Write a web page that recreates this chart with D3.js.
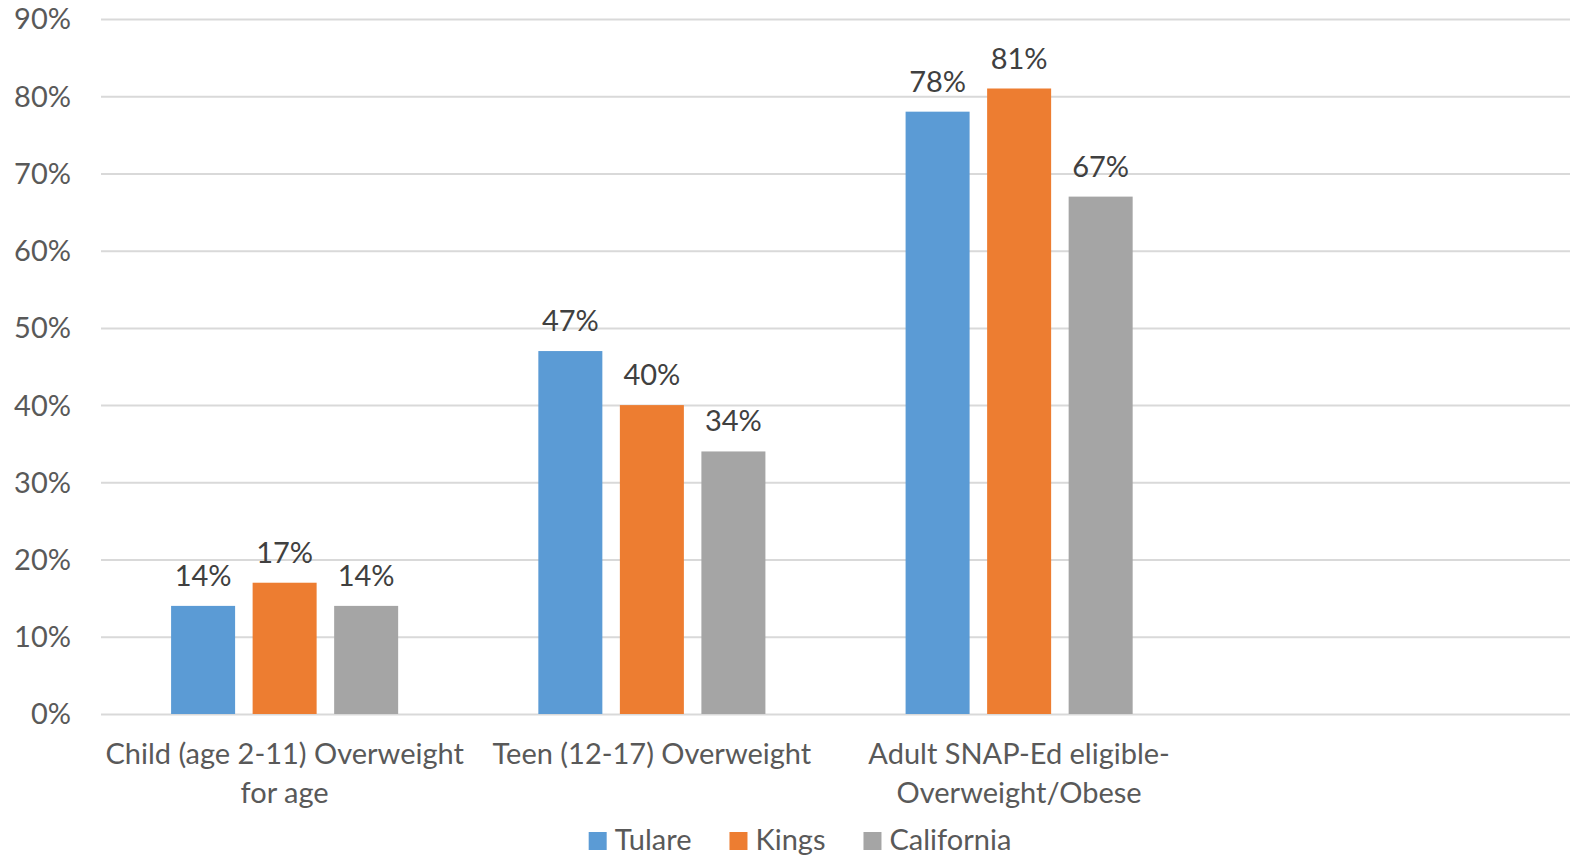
<!DOCTYPE html>
<html lang="en">
<head>
  <meta charset="utf-8" />
  <title>Overweight by age group</title>
  <script src="https://cdn.jsdelivr.net/npm/d3@7/dist/d3.min.js"></script>
  <style>
    body { margin: 0; background: #fff; }
    text { font-family: Lato, "Open Sans", sans-serif; fill: #595959; }
  </style>
</head>
<body>
<script>
// Chart data
var categories = ["Child (age 2-11) Overweight for age", "Teen (12-17) Overweight", "Adult SNAP-Ed eligible-Overweight/Obese", ""];
var categoryLines = [["Child (age 2-11) Overweight", "for age"], ["Teen (12-17) Overweight"], ["Adult SNAP-Ed eligible-", "Overweight/Obese"], []];
var series = ["Tulare", "Kings", "California"];
var tulare = [14, 47, 78];
var kings = [17, 40, 81];
var california = [14, 34, 67];
var yTicks = [0, 10, 20, 30, 40, 50, 60, 70, 80, 90];
var colors = ["#5B9BD5", "#ED7D31", "#A5A5A5"];

var width = 1580, height = 858;
var plot = { left: 101, right: 1570, top: 19, bottom: 714 };
var fs = "29px";

var svg = d3.select("body").append("svg")
    .attr("width", width)
    .attr("height", height);

var y = d3.scaleLinear().domain([0, 90]).range([plot.bottom, plot.top]);

var x0 = d3.scaleBand()
    .domain(d3.range(categories.length))
    .range([plot.left, plot.right])
    .paddingInner(0).paddingOuter(0);

// bars take ~17.4% of a category, gaps ~4.8%
var barW = x0.bandwidth() * 0.1743;
var gapW = x0.bandwidth() * 0.0477;
var groupW = barW * 3 + gapW * 2;

// gridlines
svg.append("g").selectAll("line")
  .data(yTicks)
  .enter().append("line")
    .attr("x1", plot.left)
    .attr("x2", plot.right)
    .attr("y1", function(d) { return y(d) + 0.5; })
    .attr("y2", function(d) { return y(d) + 0.5; })
    .attr("stroke", "#D9D9D9")
    .attr("stroke-width", 2);

// y axis labels
svg.append("g").selectAll("text")
  .data(yTicks)
  .enter().append("text")
    .attr("x", 71)
    .attr("y", function(d) { return y(d); })
    .attr("dy", "0.36em")
    .attr("text-anchor", "end")
    .attr("font-size", fs)
    .text(function(d) { return d + "%"; });

var table = [tulare, kings, california];

var groups = svg.append("g").selectAll("g")
  .data(table)
  .enter().append("g")
    .attr("fill", function(d, i) { return colors[i]; });

function barX(ci, si) {
  return x0(ci) + (x0.bandwidth() - groupW) / 2 + si * (barW + gapW);
}

groups.each(function(vals, si) {
  var g = d3.select(this);
  g.selectAll("rect")
    .data(vals)
    .enter().append("rect")
      .attr("x", function(d, ci) { return barX(ci, si); })
      .attr("y", function(d) { return y(d); })
      .attr("width", barW)
      .attr("height", function(d) { return y(0) - y(d); });

  g.selectAll("text")
    .data(vals)
    .enter().append("text")
      .attr("x", function(d, ci) { return barX(ci, si) + barW / 2; })
      .attr("y", function(d) { return y(d) - 20; })
      .attr("text-anchor", "middle")
      .attr("font-size", fs)
      .style("fill", "#404040")
      .text(function(d) { return d + "%"; });
});

// category labels
var catG = svg.append("g").selectAll("text")
  .data(categoryLines)
  .enter().append("text")
    .attr("text-anchor", "middle")
    .attr("font-size", fs)
    .attr("x", function(d, i) { return x0(i) + x0.bandwidth() / 2; })
    .attr("y", 764);

catG.selectAll("tspan")
  .data(function(d) { return d; })
  .enter().append("tspan")
    .attr("x", function() { return d3.select(this.parentNode).attr("x"); })
    .attr("y", function(d, i) { return 764 + i * 39; })
    .text(function(d) { return d; });

// legend
var legend = svg.append("g");
var items = legend.selectAll("g")
  .data(series)
  .enter().append("g");

items.append("rect")
  .attr("width", 18)
  .attr("height", 18)
  .attr("y", 832)
  .attr("fill", function(d, i) { return colors[i]; });

items.append("text")
  .attr("x", 26)
  .attr("y", 850)
  .attr("font-size", fs)
  .text(function(d) { return d; });

var offset = 0;
var offsets = [];
items.each(function() {
  offsets.push(offset);
  offset += d3.select(this).select("text").node().getComputedTextLength() + 26 + 38;
});
var total = offset - 38;
var startX = 800 - total / 2;
items.attr("transform", function(d, i) { return "translate(" + (startX + offsets[i]) + ",0)"; });
</script>
</body>
</html>
